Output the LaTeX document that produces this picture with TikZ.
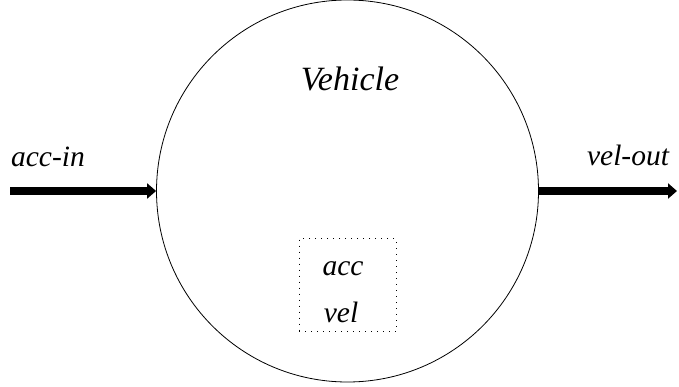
\documentclass[tikz,border=0pt]{standalone}
\usepackage{fontspec}
\setmainfont{Liberation Serif}
\usetikzlibrary{arrows.meta}
\begin{document}
\begin{tikzpicture}[x=1pt,y=-1pt,
  lbl/.style={font=\fontsize{29.5}{32}\selectfont\itshape, inner sep=0pt, anchor=base},
  ttl/.style={font=\fontsize{34}{36}\selectfont\itshape, inner sep=0pt, anchor=base},
  port/.style={line width=7.5pt, -{Triangle[length=9pt,width=15pt]}}]
\useasboundingbox (0,0) rectangle (679,387);
\node[circle, draw, line width=0.8pt, minimum size=382pt, inner sep=0pt] (veh) at (347.5,191) {};
\node[ttl] (title) at (350,91) {Vehicle};
\node[draw, line width=1pt, dash pattern=on 1pt off 5pt, minimum width=97pt, minimum height=93pt, inner sep=0pt] (box) at (347.5,285) {};
\node[lbl] (acc) at (343,275) {acc};
\node[lbl] (vel) at (341,322) {vel};
\coordinate (inS) at (10,191);
\coordinate (outE) at (677,191);
\draw[port] (inS) -- (veh.west);
\draw[port] (veh.east) -- (outE);
\node[lbl] (accin) at (48,167) {acc-in};
\node[lbl] (velout) at (628,166) {vel-out};
\end{tikzpicture}
\end{document}
